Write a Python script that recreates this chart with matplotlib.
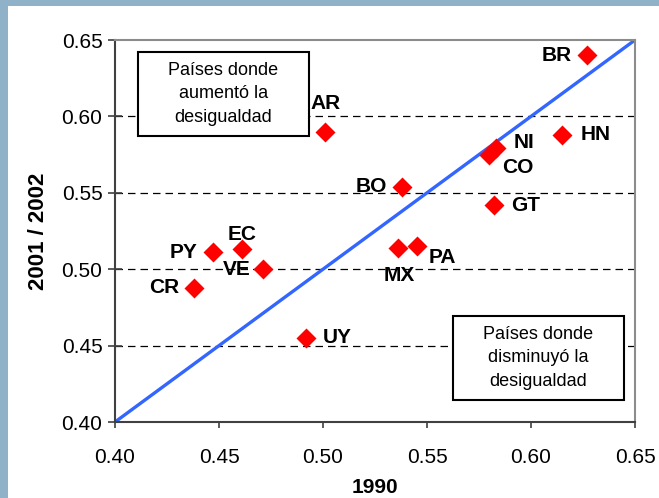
import matplotlib
matplotlib.use("Agg")
import matplotlib.pyplot as plt
from matplotlib.patches import Rectangle

plt.rcParams['font.family'] = ['Liberation Sans', 'DejaVu Sans']

# Gini coefficient, 1990 vs 2001/2002
countries = ['BR', 'HN', 'NI', 'CO', 'BO', 'GT', 'AR', 'MX', 'PA', 'PY', 'EC', 'VE', 'CR', 'UY']
gini_1990 = [0.627, 0.615, 0.583, 0.580, 0.538, 0.582, 0.501, 0.536, 0.545, 0.447, 0.461, 0.471, 0.438, 0.492]
gini_2002 = [0.640, 0.588, 0.579, 0.575, 0.554, 0.542, 0.590, 0.514, 0.515, 0.511, 0.513, 0.500, 0.488, 0.455]

# label placement: (dx, dy) in points, alignment
label_pos = {
    'BR': (-11, 0, 'right'), 'HN': (13, 0, 'left'), 'NI': (13, 4, 'left'),
    'CO': (9, -9, 'left'), 'BO': (-11, 0, 'right'), 'GT': (13, 0, 'left'),
    'AR': (0, 20, 'center'), 'MX': (1, -20, 'center'), 'PA': (9, -8, 'left'),
    'PY': (-11, 0, 'right'), 'EC': (0, 11, 'center'), 'VE': (-9, 0, 'right'),
    'CR': (-11, 0, 'right'), 'UY': (12, 0, 'left'),
}

diag = [0.40, 0.65]
grid_y = [0.45, 0.50, 0.55, 0.60]
ticks = [0.40, 0.45, 0.50, 0.55, 0.60, 0.65]

fig = plt.figure(figsize=(6.59, 4.98), dpi=100)
fig.patch.set_facecolor('#8fb2c9')
bg = fig.add_axes([8 / 659, 0, 1 - 8 / 659, 1 - 6 / 498], zorder=-10)
bg.axis('off')
bg.add_patch(Rectangle((0, 0), 1, 1, transform=bg.transAxes, facecolor='white', edgecolor='none'))

ax = fig.add_axes([115 / 659, 1 - 422 / 498, 520 / 659, 382 / 498])
ax.set_facecolor('white')

for gy in grid_y:
    ax.axhline(gy, color='black', lw=0.9, ls=(0, (6, 4)), zorder=1)

ax.plot(diag, diag, color='#3366ff', lw=2.4, zorder=2, solid_capstyle='round')
ax.plot(gini_1990, gini_2002, 'D', color='red', markersize=10, mec='none', zorder=3)

for c, x, y in zip(countries, gini_1990, gini_2002):
    dx, dy, ha = label_pos[c]
    ax.annotate(c, (x, y), xytext=(dx, dy), textcoords='offset points',
                ha=ha, va='center', fontsize=15, fontweight='bold', zorder=4)

# boxes
boxes = [((0.044, 0.749), 0.329, 0.220, 'Países donde\naumentó la\ndesigualdad'),
         ((0.650, 0.058), 0.329, 0.220, 'Países donde\ndisminuyó la\ndesigualdad')]
for (bx, by), bw, bh, txt in boxes:
    ax.add_patch(Rectangle((bx, by), bw, bh, transform=ax.transAxes, facecolor='white',
                           edgecolor='black', lw=1.5, zorder=5))
    ax.text(bx + bw / 2, by + bh / 2, txt, transform=ax.transAxes, ha='center', va='center',
            fontsize=13, linespacing=1.5, zorder=6)

ax.set_xlim(0.40, 0.65)
ax.set_ylim(0.40, 0.65)
ax.set_xticks(ticks)
ax.set_yticks(ticks)
ax.set_xticklabels([f'{t:.2f}' for t in ticks])
ax.set_yticklabels([f'{t:.2f}' for t in ticks])
ax.tick_params(axis='x', direction='out', length=4.5, width=1.2, color='#404040',
               labelsize=15, pad=14)
ax.tick_params(axis='y', direction='inout', length=10, width=1.2, color='#404040',
               labelsize=15, pad=4)

for side in ['left', 'bottom']:
    ax.spines[side].set_color('#404040')
    ax.spines[side].set_linewidth(1.5)
for side in ['top', 'right']:
    ax.spines[side].set_color('#8c8c8c')
    ax.spines[side].set_linewidth(1.5)

ax.set_xlabel('1990', fontsize=15, fontweight='bold', labelpad=8)
ax.set_ylabel('2001 / 2002', fontsize=16, fontweight='bold', labelpad=9)

fig.savefig('out.png', dpi=100, facecolor=fig.get_facecolor())
